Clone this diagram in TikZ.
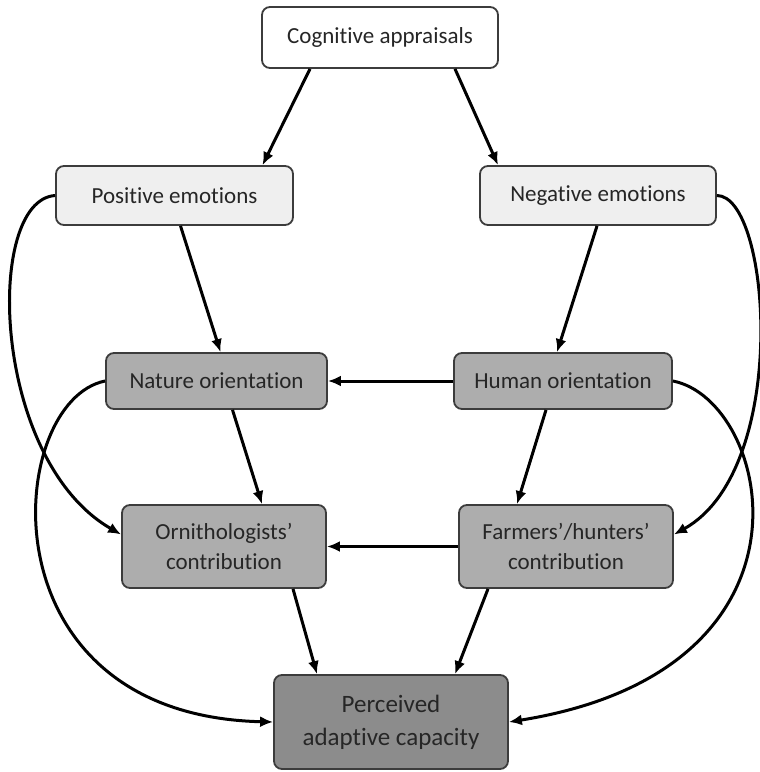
\documentclass[tikz,border=0pt]{standalone}
\usepackage{fontspec}
\setmainfont{Carlito}[Ligatures={NoCommon}]
\usetikzlibrary{arrows.meta}
\definecolor{lightfill}{HTML}{EFEFEF}
\definecolor{midfill}{HTML}{ADADAD}
\definecolor{darkfill}{HTML}{8C8C8C}
\definecolor{edgegray}{HTML}{3C3C3C}

\begin{document}
\begin{tikzpicture}[x=0.5pt, y=-0.5pt,
    boxbase/.style={draw=edgegray, line width=0.9pt, rounded corners=4pt, align=center, inner sep=0pt, text=black!85, font=\fontsize{11.5}{15}\selectfont},
    lightbox/.style={boxbase, fill=lightfill},
    midbox/.style={boxbase, fill=midfill},
    darkbox/.style={boxbase, fill=darkfill, font=\fontsize{12.5}{16.5}\selectfont},
    arr/.style={-{Latex[length=6.5pt,width=5.5pt]}, line width=1.5pt}]
  \useasboundingbox (0,0) rectangle (760,772);
  \node[boxbase, fill=white, minimum width=118pt, minimum height=30.5pt] (cog) at (380,37.5) {Cognitive appraisals};
  \node[lightbox, minimum width=118.5pt, minimum height=29.5pt] (pos) at (174.5,195.5) {Positive emotions};
  \node[lightbox, minimum width=118pt, minimum height=29.5pt] (neg) at (598,195.5) {Negative emotions};
  \node[midbox, minimum width=110.5pt, minimum height=28pt] (nat) at (216.5,381) {Nature orientation};
  \node[midbox, minimum width=109pt, minimum height=28pt] (hum) at (563,381) {Human orientation};
  \node[midbox, minimum width=102pt, minimum height=41.5pt] (orn) at (224,546.5) {Ornithologists’\\contribution};
  \node[midbox, minimum width=107pt, minimum height=41.5pt] (far) at (566,546.5) {Farmers’/hunters’\\contribution};
  \node[darkbox, minimum width=117pt, minimum height=47pt] (per) at (391,722) {Perceived\\adaptive capacity};

  \draw[arr] ([xshift=-35pt]cog.south) -- ([xshift=44pt]pos.north);
  \draw[arr] ([xshift=37.5pt]cog.south) -- ([xshift=-50pt]neg.north);
  \draw[arr] ([xshift=3pt]pos.south) -- ([xshift=2pt]nat.north);
  \draw[arr] ([xshift=-0.5pt]neg.south) -- ([xshift=-3pt]hum.north);
  \draw[arr] (hum.west) -- (nat.east);
  \draw[arr] ([xshift=8pt]nat.south) -- ([xshift=19pt]orn.north);
  \draw[arr] ([xshift=-8.5pt]hum.south) -- ([xshift=-24.5pt]far.north);
  \draw[arr] (far.west) -- (orn.east);
  \draw[arr] ([xshift=34.5pt]orn.south) -- ([xshift=-37pt]per.north);
  \draw[arr] ([xshift=-39pt]far.south) -- ([xshift=32pt]per.north);

  \draw[arr] (pos.west) .. controls +(-71,5) and +(-130,-75) .. ([yshift=6pt]orn.west);
  \draw[arr] (neg.east) .. controls +(54,0) and +(117,-65) .. ([yshift=6pt]far.east);
  \draw[arr] (nat.west) .. controls +(-100,20) and +(-294,-7) .. (per.west);
  \draw[arr] (hum.east) .. controls +(98,19) and +(325,-52) .. (per.east);
\end{tikzpicture}
\end{document}
